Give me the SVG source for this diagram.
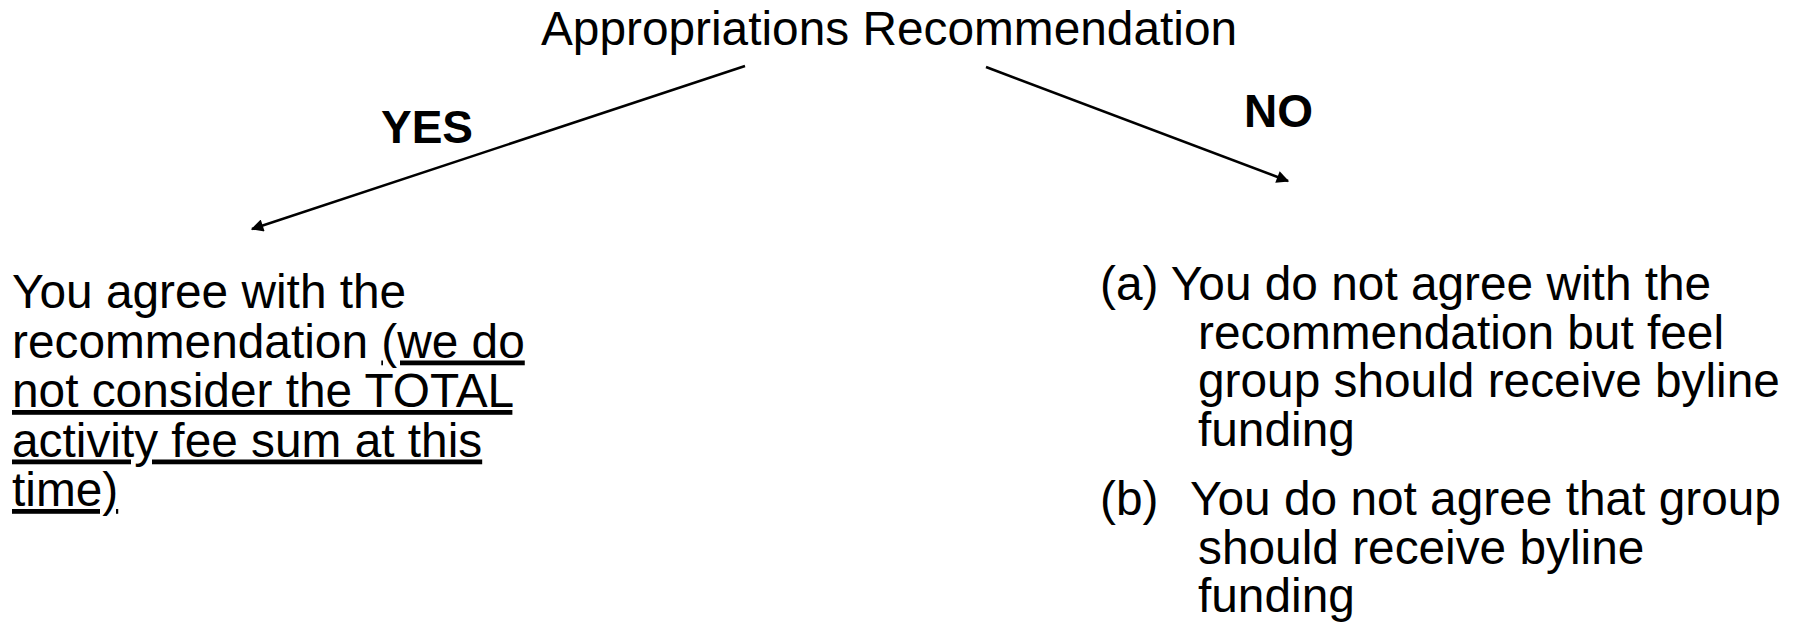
<svg xmlns="http://www.w3.org/2000/svg" width="1794" height="632" viewBox="0 0 1794 632">
<style>
text{font-family:"Liberation Sans",Arial,sans-serif;font-size:47.8px;fill:#000}
.b{font-weight:bold;font-size:46px}
.u{text-decoration:underline;text-decoration-thickness:3px;text-decoration-skip-ink:none}
.c{stroke:#000;stroke-width:2.5;fill:none;marker-end:url(#ah)}
</style>
<defs>
<marker id="ah" viewBox="0 0 10 10" refX="9" refY="5" markerWidth="7" markerHeight="5" markerUnits="strokeWidth" orient="auto">
<path d="M0,0 L10,5 L0,10 z" fill="#000"/>
</marker>
</defs>
<rect width="1794" height="632" fill="#fff"/>
<g id="connectors">
<line class="c" x1="745" y1="66" x2="252" y2="229"/>
<line class="c" x1="986" y1="67" x2="1288" y2="181"/>
</g>
<g id="root"><text x="889" y="45" text-anchor="middle">Appropriations Recommendation</text></g>
<g id="yes-label"><text class="b" x="381" y="143">YES</text></g>
<g id="no-label"><text class="b" x="1244" y="127">NO</text></g>
<g id="yes-node">
<text x="12">
<tspan x="12" y="308">You agree with the</tspan>
<tspan x="12" y="357.5">recommendation <tspan class="u">(we do</tspan></tspan>
<tspan x="12" y="407" class="u">not consider the TOTAL</tspan>
<tspan x="12" y="456.5" class="u">activity fee sum at this</tspan>
<tspan x="12" y="506" class="u">time)</tspan>
</text>
</g>
<g id="no-node">
<text>
<tspan x="1100" y="300">(a) You do not agree with the</tspan>
<tspan x="1198" y="348.5">recommendation but feel</tspan>
<tspan x="1198" y="397">group should receive byline</tspan>
<tspan x="1198" y="445.5">funding</tspan>
<tspan x="1100" y="515">(b)</tspan><tspan x="1190" y="515">You do not agree that group</tspan>
<tspan x="1198" y="563.5">should receive byline</tspan>
<tspan x="1198" y="612">funding</tspan>
</text>
</g>
</svg>
